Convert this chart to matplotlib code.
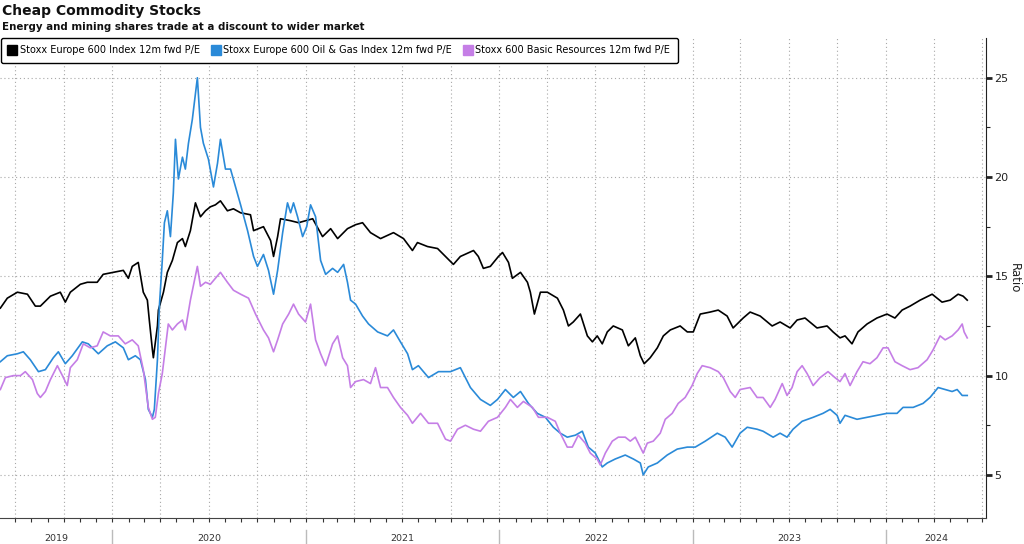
import pandas as pd
import matplotlib
matplotlib.use("Agg")
import matplotlib.pyplot as plt
import matplotlib.dates as mdates
from matplotlib.lines import Line2D
import matplotlib.transforms as mtransforms

# Values, dates as decimal years
idx_t = [2019.421, 2019.457, 2019.509, 2019.561, 2019.602, 2019.628, 2019.680, 2019.731, 2019.757, 2019.783,
         2019.835, 2019.871, 2019.922, 2019.953, 2020.005, 2020.057, 2020.083, 2020.103, 2020.134, 2020.160,
         2020.181, 2020.191, 2020.207, 2020.212, 2020.233, 2020.238, 2020.264, 2020.284, 2020.310, 2020.336,
         2020.362, 2020.377, 2020.403, 2020.429, 2020.455, 2020.481, 2020.506, 2020.532, 2020.558, 2020.594,
         2020.625, 2020.662, 2020.713, 2020.729, 2020.780, 2020.817, 2020.832, 2020.853, 2020.868, 2020.920,
         2020.961, 2020.997, 2021.034, 2021.085, 2021.127, 2021.163, 2021.214, 2021.256, 2021.292, 2021.333,
         2021.385, 2021.452, 2021.504, 2021.550, 2021.576, 2021.628, 2021.680, 2021.721, 2021.762, 2021.798,
         2021.866, 2021.891, 2021.917, 2021.953, 2021.995, 2022.016, 2022.047, 2022.067, 2022.109, 2022.145,
         2022.160, 2022.181, 2022.212, 2022.248, 2022.300, 2022.331, 2022.357, 2022.382, 2022.419, 2022.455,
         2022.481, 2022.506, 2022.532, 2022.558, 2022.589, 2022.636, 2022.667, 2022.703, 2022.729, 2022.749,
         2022.780, 2022.817, 2022.848, 2022.884, 2022.935, 2022.972, 2023.003, 2023.039, 2023.090, 2023.132,
         2023.178, 2023.209, 2023.261, 2023.297, 2023.349, 2023.411, 2023.452, 2023.504, 2023.540, 2023.581,
         2023.643, 2023.695, 2023.726, 2023.762, 2023.788, 2023.824, 2023.855, 2023.902, 2023.953, 2024.005,
         2024.046, 2024.083, 2024.124, 2024.176, 2024.238, 2024.289, 2024.331, 2024.372, 2024.398, 2024.419]
idx_v = [13.4, 13.9, 14.2, 14.1, 13.5, 13.5, 14.0, 14.2, 13.7, 14.2,
         14.6, 14.7, 14.7, 15.1, 15.2, 15.3, 14.9, 15.5, 15.7, 14.2,
         13.8, 12.8, 11.3, 10.9, 12.5, 13.3, 14.2, 15.2, 15.8, 16.7,
         16.9, 16.5, 17.3, 18.7, 18.0, 18.3, 18.5, 18.6, 18.8, 18.3,
         18.4, 18.2, 18.1, 17.3, 17.5, 16.8, 16.0, 17.0, 17.9, 17.8,
         17.7, 17.8, 17.9, 17.0, 17.4, 16.9, 17.4, 17.6, 17.7, 17.2,
         16.9, 17.2, 16.9, 16.3, 16.7, 16.5, 16.4, 16.0, 15.6, 16.0,
         16.3, 16.0, 15.4, 15.5, 16.0, 16.2, 15.7, 14.9, 15.2, 14.7,
         14.2, 13.1, 14.2, 14.2, 13.9, 13.3, 12.5, 12.7, 13.1, 12.0,
         11.7, 12.0, 11.6, 12.2, 12.5, 12.3, 11.5, 11.9, 11.0, 10.6,
         10.9, 11.4, 12.0, 12.3, 12.5, 12.2, 12.2, 13.1, 13.2, 13.3,
         13.0, 12.4, 12.9, 13.2, 13.0, 12.5, 12.7, 12.4, 12.8, 12.9,
         12.4, 12.5, 12.2, 11.9, 12.0, 11.6, 12.2, 12.6, 12.9, 13.1,
         12.9, 13.3, 13.5, 13.8, 14.1, 13.7, 13.8, 14.1, 14.0, 13.8]

oil_t = [2019.421, 2019.457, 2019.509, 2019.540, 2019.576, 2019.618, 2019.654, 2019.695, 2019.721, 2019.757,
         2019.793, 2019.845, 2019.876, 2019.928, 2019.974, 2020.016, 2020.057, 2020.083, 2020.119, 2020.145,
         2020.171, 2020.186, 2020.207, 2020.217, 2020.233, 2020.243, 2020.258, 2020.269, 2020.284, 2020.300,
         2020.315, 2020.326, 2020.341, 2020.362, 2020.377, 2020.393, 2020.413, 2020.439, 2020.455, 2020.470,
         2020.496, 2020.522, 2020.543, 2020.558, 2020.584, 2020.610, 2020.636, 2020.662, 2020.698, 2020.729,
         2020.749, 2020.780, 2020.806, 2020.832, 2020.853, 2020.879, 2020.904, 2020.920, 2020.935, 2020.956,
         2020.982, 2021.003, 2021.023, 2021.049, 2021.075, 2021.101, 2021.137, 2021.163, 2021.194, 2021.214,
         2021.230, 2021.256, 2021.292, 2021.323, 2021.370, 2021.421, 2021.452, 2021.488, 2021.525, 2021.550,
         2021.581, 2021.633, 2021.685, 2021.747, 2021.798, 2021.850, 2021.902, 2021.953, 2021.990, 2022.031,
         2022.072, 2022.109, 2022.150, 2022.196, 2022.238, 2022.279, 2022.315, 2022.351, 2022.393, 2022.429,
         2022.460, 2022.496, 2022.532, 2022.558, 2022.599, 2022.651, 2022.693, 2022.729, 2022.744, 2022.770,
         2022.817, 2022.868, 2022.920, 2022.972, 2023.013, 2023.065, 2023.127, 2023.168, 2023.204, 2023.245,
         2023.282, 2023.333, 2023.364, 2023.416, 2023.452, 2023.488, 2023.519, 2023.566, 2023.623, 2023.674,
         2023.711, 2023.747, 2023.762, 2023.788, 2023.850, 2023.902, 2023.953, 2024.005, 2024.057, 2024.088,
         2024.140, 2024.191, 2024.227, 2024.269, 2024.305, 2024.341, 2024.367, 2024.393, 2024.419]
oil_v = [10.7, 11.0, 11.1, 11.2, 10.8, 10.2, 10.3, 10.9, 11.2, 10.6,
         11.0, 11.7, 11.6, 11.1, 11.5, 11.7, 11.4, 10.8, 11.0, 10.8,
         9.8, 8.3, 7.9, 8.3, 10.8, 13.5, 15.8, 17.7, 18.3, 17.0,
         19.2, 21.9, 19.9, 21.0, 20.4, 21.7, 22.9, 25.0, 22.5, 21.7,
         20.9, 19.5, 20.7, 21.9, 20.4, 20.4, 19.5, 18.6, 17.3, 16.0,
         15.5, 16.1, 15.3, 14.1, 15.3, 17.2, 18.7, 18.2, 18.7, 18.0,
         17.0, 17.5, 18.6, 18.0, 15.8, 15.1, 15.4, 15.2, 15.6, 14.7,
         13.8, 13.6, 13.0, 12.6, 12.2, 12.0, 12.3, 11.7, 11.1, 10.3,
         10.5, 9.9, 10.2, 10.2, 10.4, 9.4, 8.8, 8.5, 8.8, 9.3,
         8.9, 9.2, 8.6, 8.1, 7.9, 7.4, 7.1, 6.9, 7.0, 7.2,
         6.4, 6.1, 5.4, 5.6, 5.8, 6.0, 5.8, 5.6, 5.0, 5.4,
         5.6, 6.0, 6.3, 6.4, 6.4, 6.7, 7.1, 6.9, 6.4, 7.1,
         7.4, 7.3, 7.2, 6.9, 7.1, 6.9, 7.3, 7.7, 7.9, 8.1,
         8.3, 8.0, 7.6, 8.0, 7.8, 7.9, 8.0, 8.1, 8.1, 8.4,
         8.4, 8.6, 8.9, 9.4, 9.3, 9.2, 9.3, 9.0, 9.0]

res_t = [2019.421, 2019.447, 2019.488, 2019.525, 2019.550, 2019.587, 2019.612, 2019.628, 2019.654, 2019.680,
         2019.716, 2019.742, 2019.767, 2019.783, 2019.819, 2019.850, 2019.886, 2019.922, 2019.953, 2019.990,
         2020.031, 2020.067, 2020.103, 2020.134, 2020.160, 2020.186, 2020.207, 2020.222, 2020.238, 2020.258,
         2020.274, 2020.289, 2020.310, 2020.336, 2020.362, 2020.377, 2020.403, 2020.439, 2020.455, 2020.481,
         2020.506, 2020.558, 2020.594, 2020.625, 2020.662, 2020.703, 2020.739, 2020.780, 2020.806, 2020.832,
         2020.853, 2020.879, 2020.910, 2020.935, 2020.961, 2020.997, 2021.023, 2021.049, 2021.075, 2021.101,
         2021.137, 2021.163, 2021.189, 2021.214, 2021.230, 2021.256, 2021.297, 2021.333, 2021.359, 2021.385,
         2021.421, 2021.452, 2021.488, 2021.525, 2021.550, 2021.592, 2021.633, 2021.680, 2021.721, 2021.747,
         2021.783, 2021.824, 2021.866, 2021.902, 2021.943, 2021.990, 2022.031, 2022.057, 2022.093, 2022.124,
         2022.171, 2022.202, 2022.248, 2022.289, 2022.315, 2022.351, 2022.377, 2022.408, 2022.444, 2022.470,
         2022.506, 2022.522, 2022.548, 2022.584, 2022.615, 2022.651, 2022.677, 2022.703, 2022.729, 2022.744,
         2022.765, 2022.796, 2022.832, 2022.858, 2022.894, 2022.925, 2022.961, 2022.997, 2023.023, 2023.049,
         2023.090, 2023.132, 2023.158, 2023.194, 2023.220, 2023.245, 2023.297, 2023.333, 2023.364, 2023.401,
         2023.426, 2023.463, 2023.488, 2023.514, 2023.540, 2023.566, 2023.592, 2023.623, 2023.659, 2023.700,
         2023.736, 2023.762, 2023.788, 2023.814, 2023.850, 2023.881, 2023.917, 2023.953, 2023.985, 2024.010,
         2024.046, 2024.083, 2024.124, 2024.165, 2024.212, 2024.243, 2024.279, 2024.305, 2024.341, 2024.372,
         2024.393, 2024.403, 2024.419]
res_v = [9.3, 9.9, 10.0, 10.0, 10.2, 9.8, 9.1, 8.9, 9.2, 9.8,
         10.5, 10.0, 9.5, 10.4, 10.8, 11.6, 11.4, 11.5, 12.2, 12.0,
         12.0, 11.6, 11.8, 11.5, 10.3, 8.4, 7.8, 7.9, 9.1, 10.1,
         11.4, 12.6, 12.3, 12.6, 12.8, 12.3, 13.8, 15.5, 14.5, 14.7,
         14.6, 15.2, 14.7, 14.3, 14.1, 13.9, 13.1, 12.3, 11.9, 11.2,
         11.8, 12.6, 13.1, 13.6, 13.1, 12.7, 13.6, 11.8, 11.1, 10.5,
         11.6, 12.0, 10.9, 10.5, 9.4, 9.7, 9.8, 9.6, 10.4, 9.4,
         9.4, 8.9, 8.4, 8.0, 7.6, 8.1, 7.6, 7.6, 6.8, 6.7,
         7.3, 7.5, 7.3, 7.2, 7.7, 7.9, 8.4, 8.8, 8.4, 8.7,
         8.4, 7.9, 7.9, 7.7, 7.1, 6.4, 6.4, 7.0, 6.6, 6.1,
         5.8, 5.5, 6.1, 6.7, 6.9, 6.9, 6.7, 6.9, 6.4, 6.1,
         6.6, 6.7, 7.1, 7.8, 8.1, 8.6, 8.9, 9.5, 10.1, 10.5,
         10.4, 10.2, 9.9, 9.2, 8.9, 9.3, 9.4, 8.9, 8.9, 8.4,
         8.8, 9.6, 9.0, 9.4, 10.2, 10.5, 10.1, 9.5, 9.9, 10.2,
         9.9, 9.7, 10.1, 9.5, 10.2, 10.7, 10.6, 10.9, 11.4, 11.4,
         10.7, 10.5, 10.3, 10.4, 10.8, 11.3, 12.0, 11.8, 12.0, 12.3,
         12.6, 12.2, 11.9]

labels = ["Stoxx Europe 600 Index 12m fwd P/E",
          "Stoxx Europe 600 Oil & Gas Index 12m fwd P/E",
          "Stoxx 600 Basic Resources 12m fwd P/E"]
colors = ["#000000", "#2a8ad8", "#c57ee6"]
years = [2019, 2020, 2021, 2022, 2023, 2024]
y_ticks = [5, 10, 15, 20, 25]


def to_dates(ts):
    out = []
    for t in ts:
        y = int(t)
        start = pd.Timestamp(year=y, month=1, day=1)
        n = (pd.Timestamp(year=y + 1, month=1, day=1) - start).days
        out.append(start + pd.Timedelta(days=(t - y) * n))
    return out


plt.rcParams["font.family"] = "DejaVu Sans"

fig = plt.figure(figsize=(10.24, 5.44), dpi=100)
ax = fig.add_axes([0.0, 0.0478, 0.963, 0.8823])

series = [(idx_t, idx_v), (oil_t, oil_v), (res_t, res_v)]
for (t, v), c, lab in zip(series, colors, labels):
    ax.plot(to_dates(t), v, color=c, lw=1.2, label=lab)

x0 = pd.Timestamp("2019-06-03")
x1 = pd.Timestamp("2024-07-08")
ax.set_xlim(x0, x1)
ax.set_ylim(2.83, 27.0)

# right-hand value axis
ax.yaxis.tick_right()
ax.yaxis.set_label_position("right")
ax.set_yticks(y_ticks)
ax.set_yticks([7.5, 12.5, 17.5, 22.5], minor=True)
ax.tick_params(axis="y", which="major", length=4, width=2, pad=2, labelsize=8, colors="#222222")
ax.tick_params(axis="y", which="minor", length=3, width=0.8, colors="#222222")
ax.set_ylabel("Ratio", rotation=270, labelpad=9, fontsize=8.5, color="#222222")

# month ticks, quarterly grid
ax.xaxis.set_major_locator(mdates.MonthLocator(bymonth=[1, 4, 7, 10]))
ax.xaxis.set_minor_locator(mdates.MonthLocator())
ax.xaxis.set_major_formatter(plt.NullFormatter())
ax.tick_params(axis="x", which="both", length=3, width=0.8, colors="#333333")

ax.grid(True, which="major", axis="both", color="#a8a8a8", ls=(0, (1, 2.5)), lw=0.8)

for s in ["left", "top"]:
    ax.spines[s].set_visible(False)
ax.spines["right"].set_color("#222222")
ax.spines["bottom"].set_color("#444444")

# year labels under the axis, centred on the visible part of each year
trans = mtransforms.blended_transform_factory(ax.transData, ax.transAxes)
for yr in years:
    a = max(pd.Timestamp(f"{yr}-01-01"), x0)
    b = min(pd.Timestamp(f"{yr + 1}-01-01"), x1)
    mid = a + (b - a) / 2
    ax.text(mid, -0.043, str(yr), transform=trans, ha="center", va="center",
            fontsize=6.8, color="#333333")
    if yr > years[0]:
        ax.plot([pd.Timestamp(f"{yr}-01-01")] * 2, [-0.025, -0.06], transform=trans,
                color="#bbbbbb", lw=1, clip_on=False)

# title block
fig.text(0.002, 0.979, "Cheap Commodity Stocks", fontsize=10, fontweight="bold",
         ha="left", va="center", color="#111111")
fig.text(0.002, 0.950, "Energy and mining shares trade at a discount to wider market",
         fontsize=7.4, fontweight="bold", ha="left", va="center", color="#111111")

handles = [Line2D([], [], ls="none", marker="s", markersize=6.5, color=c) for c in colors]
leg = fig.legend(handles, labels, loc="upper left", bbox_to_anchor=(0.001, 0.93), ncol=3,
                 fontsize=7, frameon=True, fancybox=True, edgecolor="#000000",
                 handlelength=0.8, handletextpad=0.4, columnspacing=1.2, borderpad=0.75,
                 borderaxespad=0)
leg.get_frame().set_linewidth(1)
leg.get_frame().set_alpha(1)

fig.savefig("out.png", dpi=100)
